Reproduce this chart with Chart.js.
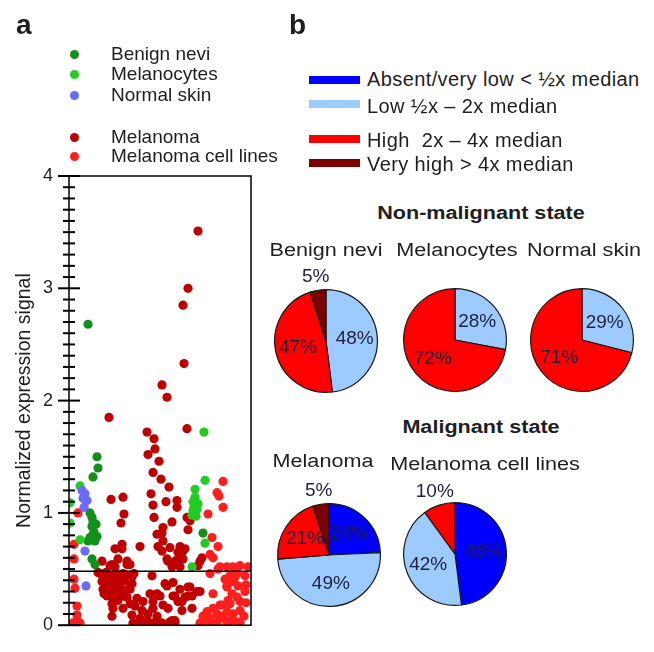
<!DOCTYPE html>
<html>
<head>
<meta charset="utf-8">
<script src="https://cdn.jsdelivr.net/npm/chart.js@4.4.1/dist/chart.umd.min.js"></script>
<style>
  body { margin: 0; background: #fff; }
  #page { position: relative; width: 654px; height: 652px; overflow: hidden;
          font-family: "Liberation Sans", Arial, sans-serif; color: #1e1e1e; }
  #page canvas { position: absolute; }
  .t { position: absolute; white-space: pre; line-height: 20px; }
  .c { width: 300px; text-align: center; }
  .dot { position: absolute; width: 9px; height: 9px; border-radius: 50%; }
  .bar { position: absolute; width: 51px; height: 8px; }
</style>
</head>
<body>
<div id="page">
  <canvas id="scatter" width="270" height="652" style="left:0;top:0"></canvas>
  <canvas id="pie0" width="130" height="140" style="left:261px;top:255px"></canvas>
  <canvas id="pie1" width="130" height="140" style="left:390px;top:254px"></canvas>
  <canvas id="pie2" width="130" height="140" style="left:517px;top:254px"></canvas>
  <canvas id="pie3" width="130" height="140" style="left:264px;top:469px"></canvas>
  <canvas id="pie4" width="130" height="140" style="left:390px;top:468px"></canvas>
</div>
<script>
const FONT = '"Liberation Sans", Arial, sans-serif';
Chart.defaults.font.family = FONT;
Chart.defaults.color = '#1e1e1e';

// ---- panel a: [jitter position, normalized expression signal] ----
const benignNevi = [
  [19,2.68],[28,1.50],[29,1.40],[24,1.32],[21,1.00],[23,0.96],[24,0.92],[27,0.90],[23,0.88],
  [24,0.81],[28,0.79],[23,0.76],[26,0.75],[19,0.75],[21,0.78],[25,0.83],[23,0.59],[26,0.54],
  [134,0.82]
];
const melanocytes = [
  [11,1.24],[1,1.09],[1,0.91],[11,0.76],[135,1.72],[136,1.29],[126,1.21],[126,1.14],[124,1.10],
  [125,1.05],[124,1.02],[126,1.00],[123,0.98],[128,1.03],[127,0.97],[129,1.08],[136,0.73],[123,0.52]
];
const normalSkin = [[13,1.20],[16,1.17],[14,1.13],[18,1.11],[15,1.05],[16,0.66],[17,0.35]];
const melanoma = [
  [129,3.51],[119,3.00],[114,2.85],[115,2.33],[93,2.14],[98,2.03],[40,1.85],[78,1.72],[85,1.66],
  [118,1.75],[86,1.57],[79,1.52],[90,1.46],[84,1.36],[92,1.30],[100,1.23],[82,1.17],[42,1.12],
  [54,1.14],[97,1.10],[108,1.11],[108,1.05],[84,1.07],[55,0.99],[85,0.96],[118,0.96],[121,0.93],
  [52,0.91],[103,0.92],[94,0.87],[119,0.85],[88,0.81],[93,0.82],[94,0.75],[53,0.72],[71,0.70],
  [46,0.68],[53,0.68],[89,0.70],[101,0.69],[111,0.70],[114,0.66],[93,0.66],[116,0.68],[109,0.65],
  [106,0.57],[98,0.59],[114,0.59],[109,0.59],[99,0.57],[33,0.57],[49,0.59],[58,0.57],[58,0.54],
  [61,0.54],[43,0.54],[41,0.53],[46,0.52],[103,0.52],[111,0.52],[129,0.53],[131,0.57],[133,0.60],
  [31,0.46],[36,0.43],[41,0.44],[46,0.41],[51,0.43],[58,0.44],[63,0.43],[33,0.39],[38,0.37],
  [44,0.35],[51,0.37],[58,0.39],[63,0.37],[34,0.32],[41,0.31],[49,0.32],[56,0.31],[61,0.32],
  [38,0.26],[44,0.25],[49,0.22],[43,0.19],[58,0.25],[61,0.19],[68,0.24],[74,0.21],[81,0.28],
  [84,0.21],[91,0.26],[44,0.15],[54,0.15],[66,0.17],[73,0.13],[79,0.10],[84,0.15],[43,0.08],
  [63,0.09],[71,0.06],[78,0.04],[88,0.08],[64,0.02],[74,0.00],[84,0.02],[89,0.02],[83,0.44],
  [88,0.28],[94,0.18],[96,0.37],[98,0.35],[104,0.38],[104,0.26],[106,0.26],[111,0.32],[113,0.21],
  [109,0.21],[116,0.25],[119,0.34],[121,0.34],[119,0.26],[123,0.26],[128,0.30],[131,0.30],[99,0.15],
  [113,0.13],[123,0.15],[101,0.03],[106,0.04],[98,0.00],[91,0.00],[71,0.00],[93,0.02],[103,0.04],
  [106,0.02],[29,0.47],[37,0.47],[47,0.46],[54,0.46],[65,0.46],[35,0.28],[46,0.28],[54,0.26],
  [52,0.40],[40,0.41]
];
const cellLines = [
  [9,1.00],[5,0.72],[5,0.59],[5,0.41],[6,0.33],[8,0.17],[8,0.09],[4,0.02],[8,0.04],[3,0.00],[11,0.02],
  [154,1.28],[148,1.18],[150,1.15],[154,1.05],[139,0.99],[143,0.78],[149,0.70],[141,0.63],[144,0.60],
  [151,0.52],[158,0.52],[164,0.52],[171,0.53],[179,0.52],[141,0.46],[149,0.50],[161,0.44],[168,0.46],
  [176,0.44],[156,0.41],[166,0.43],[164,0.39],[169,0.35],[158,0.35],[177,0.36],[144,0.28],[163,0.28],
  [158,0.34],[176,0.30],[168,0.25],[171,0.21],[159,0.22],[161,0.19],[151,0.18],[153,0.18],[144,0.15],
  [138,0.12],[148,0.10],[158,0.12],[164,0.10],[171,0.13],[177,0.20],[134,0.08],[175,0.08],[141,0.04],
  [151,0.06],[141,0.06],[161,0.04],[168,0.03],[136,0.04],[131,0.02],[144,0.02],[158,0.02],[171,0.02],
  [148,0.00],[154,0.08]
];
const cutoff = 0.48;
const groupNames = ['Benign nevi', 'Melanocytes', 'Normal skin', 'Melanoma', 'Melanoma cell lines'];
const groupColors = ['#13901b', '#22cc22', '#6b6bf5', '#c00000', '#ff1e1e'];

// ---- panel b: percent of samples per expression level ----
const levels = ['Absent/very low < \u00bdx median', 'Low \u00bdx \u2013 2x median',
                'High  2x \u2013 4x median', 'Very high > 4x median'];
const levelColors = ['#0000ff', '#9ecbff', '#ff0000', '#7d0000'];
const pieNames = ['Benign nevi', 'Melanocytes', 'Normal skin', 'Melanoma', 'Melanoma cell lines'];
const benignPct = [0, 48, 47, 5];
const melanocytePct = [0, 28, 72, 0];
const normalSkinPct = [0, 29, 71, 0];
const melanomaPct = [24, 49, 21, 5];
const cellLinePct = [48, 42, 10, 0];

// ---- text and legends ----
const page = document.getElementById('page');
function addText(txt, style) {
  const d = document.createElement('div');
  d.className = 't';
  d.textContent = txt;
  d.style.cssText += style;
  page.appendChild(d);
  return d;
}
function addCentered(txt, cx, cy, style) {
  const d = addText(txt, `left:${cx - 150}px;top:${cy - 10}px;` + style);
  d.classList.add('c');
}

addText('a', 'left:16px;top:11px;font:bold 28px/28px ' + FONT);
addText('b', 'left:289px;top:11px;font:bold 28px/28px ' + FONT);

// panel a legend
const legendY = [54, 74, 95, 137, 156];
groupNames.forEach((name, i) => {
  const dot = document.createElement('div');
  dot.className = 'dot';
  dot.style.cssText = `left:69.5px;top:${legendY[i] - 4.5}px;background:${groupColors[i]}`;
  page.appendChild(dot);
  addText(name, `left:111px;top:${legendY[i] - 10}px;font-size:19px`);
});

// panel b legend
const barY = [80, 104, 139, 163];
const levelTextY = [79, 106, 140, 164];
levels.forEach((name, i) => {
  const bar = document.createElement('div');
  bar.className = 'bar';
  bar.style.cssText = `left:309px;top:${barY[i] - 4}px;background:${levelColors[i]}`;
  page.appendChild(bar);
  addText(name, `left:367px;top:${levelTextY[i] - 10}px;font-size:20px;letter-spacing:0.4px`);
});

const stretch = 'font-size:18px;transform:scaleX(1.2);';
addCentered('Non-malignant state', 481, 213, 'font-weight:bold;' + stretch);
addCentered('Malignant state', 481, 427, 'font-weight:bold;' + stretch);
const pieTitlePos = [[326, 250], [457, 250], [584, 250], [323, 461], [485, 464]];
pieNames.forEach((name, i) => addCentered(name, pieTitlePos[i][0], pieTitlePos[i][1], stretch));

// ---- scatter (panel a) ----
const frame = {
  id: 'frame',
  afterDraw(chart) {
    const { ctx, chartArea: a, scales: { y } } = chart;
    ctx.save();
    ctx.strokeStyle = '#000';
    ctx.lineWidth = 1.5;
    ctx.strokeRect(a.left, a.top, a.right - a.left, a.bottom - a.top);
    ctx.lineWidth = 2;
    for (let i = 0; i <= 40; i++) {
      const py = y.getPixelForValue(i / 10);
      const len = i % 10 === 0 ? 11 : 6;
      ctx.beginPath();
      ctx.moveTo(a.left - len, py);
      ctx.lineTo(a.left + len, py);
      ctx.stroke();
    }
    ctx.restore();
  }
};

const toPts = arr => arr.map(([x, y]) => ({ x, y }));
const groups = [benignNevi, melanocytes, normalSkin, melanoma, cellLines];
const drawOrder = [2, 1, 0, 4, 3];

new Chart(document.getElementById('scatter'), {
  type: 'scatter',
  data: {
    datasets: groups.map((g, i) => ({
      label: groupNames[i],
      data: toPts(g),
      backgroundColor: groupColors[i],
      borderWidth: 0,
      pointRadius: 4.6,
      order: drawOrder[i] + 1
    })).concat([{
      type: 'line',
      label: 'cutoff',
      data: [{ x: 0, y: cutoff }, { x: 182, y: cutoff }],
      borderColor: '#000',
      borderWidth: 1.5,
      pointRadius: 0,
      order: 0
    }])
  },
  options: {
    responsive: false,
    animation: false,
    layout: { padding: { left: 10, top: 176, right: 19, bottom: 20 } },
    plugins: { legend: { display: false }, tooltip: { enabled: false } },
    scales: {
      x: { type: 'linear', min: 0, max: 182, display: false },
      y: {
        min: 0, max: 4,
        ticks: { stepSize: 1, padding: 16, font: { size: 18 }, color: '#1e1e1e' },
        grid: { display: false, drawTicks: false },
        border: { display: false },
        title: { display: true, text: 'Normalized expression signal', font: { size: 19.5 },
                 color: '#1e1e1e', padding: { top: 3, bottom: 0 } },
        afterFit(scale) { scale.width = 59; }
      }
    }
  },
  plugins: [frame]
});

// ---- pies (panel b) ----
const pctLabels = {
  id: 'pct',
  afterDatasetsDraw(chart) {
    const ctx = chart.ctx;
    const values = chart.data.datasets[0].data;
    ctx.save();
    ctx.font = '19px ' + FONT;
    ctx.fillStyle = '#1f1f3d';
    ctx.textAlign = 'center';
    ctx.textBaseline = 'middle';
    chart.getDatasetMeta(0).data.forEach((arc, i) => {
      const v = values[i];
      if (!v) return;
      const { x, y, startAngle, endAngle, outerRadius } =
        arc.getProps(['x', 'y', 'startAngle', 'endAngle', 'outerRadius'], true);
      const mid = (startAngle + endAngle) / 2;
      const d = v <= 10 ? outerRadius + 14 : outerRadius * 0.56;
      ctx.fillText(v + '%', x + Math.cos(mid) * d, y + Math.sin(mid) * d);
    });
    ctx.restore();
  }
};

[benignPct, melanocytePct, normalSkinPct, melanomaPct, cellLinePct].forEach((vals, i) => {
  new Chart(document.getElementById('pie' + i), {
    type: 'pie',
    data: {
      labels: levels,
      datasets: [{ data: vals, backgroundColor: levelColors, borderColor: '#1a1a1a', borderWidth: 1.2 }]
    },
    options: {
      responsive: false,
      animation: false,
      layout: { padding: { top: 34, bottom: 2, left: 12, right: 12 } },
      plugins: { legend: { display: false }, tooltip: { enabled: false } }
    },
    plugins: [pctLabels]
  });
});
</script>
</body>
</html>
